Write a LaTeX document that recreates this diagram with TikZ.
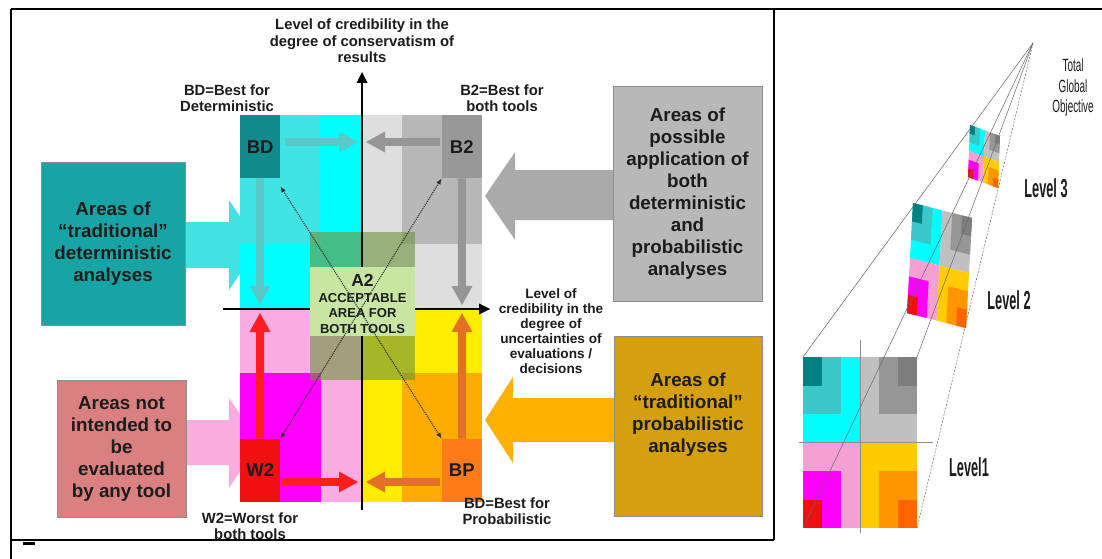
\documentclass[tikz,border=0pt]{standalone}
\usepackage{fontspec}
\usepackage{graphicx}
\setmainfont{Liberation Sans}
\usetikzlibrary{arrows.meta,calc}
\definecolor{cyanA}{RGB}{0,255,255}
\definecolor{cyanB}{RGB}{64,228,228}
\definecolor{tealD}{RGB}{16,138,138}
\definecolor{grayL}{RGB}{222,222,222}
\definecolor{grayM}{RGB}{184,184,184}
\definecolor{grayD}{RGB}{152,152,152}
\definecolor{pinkL}{RGB}{250,172,226}
\definecolor{magC}{RGB}{255,0,255}
\definecolor{redC}{RGB}{240,16,16}
\definecolor{yelC}{RGB}{255,236,0}
\definecolor{orC}{RGB}{255,172,0}
\definecolor{orD}{RGB}{255,122,24}
\definecolor{tealBox}{RGB}{24,164,164}
\definecolor{pinkBox}{RGB}{218,128,128}
\definecolor{grayBox}{RGB}{184,184,184}
\definecolor{goldBox}{RGB}{212,160,16}
\definecolor{arrCyan}{RGB}{64,226,226}
\definecolor{arrPink}{RGB}{250,172,222}
\definecolor{arrGray}{RGB}{170,170,170}
\definecolor{arrOr}{RGB}{255,176,0}
\definecolor{tealArr}{RGB}{88,200,200}
\definecolor{grayArr}{RGB}{150,150,150}
\definecolor{redArr}{RGB}{255,30,30}
\definecolor{orArr}{RGB}{228,112,40}
\definecolor{aOlive}{RGB}{110,150,62}
\definecolor{aLight}{RGB}{200,230,162}
\definecolor{lTeal}{RGB}{0,128,128}
\definecolor{lTealM}{RGB}{60,200,200}
\definecolor{lGrayL}{RGB}{192,192,192}
\definecolor{lGrayM}{RGB}{150,150,150}
\definecolor{lGrayD}{RGB}{126,126,126}
\definecolor{lPink}{RGB}{245,160,210}
\definecolor{lYel}{RGB}{255,204,0}
\definecolor{lOr}{RGB}{255,150,0}
\definecolor{lOrD}{RGB}{255,100,0}
\definecolor{txt}{RGB}{28,28,28}
\newcommand\qd[5]{\fill[#5] (#1,#2) -- (#3,#2) -- (#3,#4) -- (#1,#4) -- cycle;}
\newcommand\levelpat{%
 \qd{0}{0}{3}{3}{cyanA}\qd{0}{0}{2}{2}{lTealM}\qd{0}{0}{1}{1}{lTeal}%
 \qd{3}{0}{6}{3}{lGrayL}\qd{4}{0}{6}{2}{lGrayM}\qd{5}{0}{6}{1}{lGrayD}%
 \qd{0}{3}{3}{6}{lPink}\qd{0}{4}{2}{6}{magC}\qd{0}{5}{1}{6}{redC}%
 \qd{3}{3}{6}{6}{lYel}\qd{4}{4}{6}{6}{lOr}\qd{5}{5}{6}{6}{lOrD}}
\newcommand\narrowtxt[1]{\scalebox{0.56}[1]{#1}}
\newcommand\lvltxt[1]{\scalebox{0.49}[1]{\bfseries #1}}
\begin{document}
\begin{tikzpicture}[x=1pt,y=-1pt,
  lbl/.style={font=\bfseries\fontsize{14.8}{16.5}\selectfont, align=center, inner sep=0pt, text=txt},
  lbltwo/.style={font=\bfseries\fontsize{13.6}{15}\selectfont, align=center, inner sep=0pt, text=txt},
  bigtxt/.style={font=\bfseries\fontsize{18.8}{22}\selectfont, align=center, inner sep=0pt, text=txt},
  bigbox/.style={draw=black!45, line width=0.8pt, inner sep=0pt},
  keybox/.style={inner sep=0pt, font=\bfseries\fontsize{18.5}{18.5}\selectfont, text=txt,
    minimum width=40pt, minimum height=63pt, anchor=north west},
  tarr/.style={line width=8pt, -{Triangle[width=21pt,length=19pt,line width=0pt]}},
  axisarr/.style={line width=2.5pt, -{Triangle[width=11pt,length=11pt,line width=0pt]}},
  dotarr/.style={densely dotted, line width=1.1pt, black!80,
    {Latex[length=6pt,width=5pt]}-{Latex[length=6pt,width=5pt]}},
  lvl/.style={font=\fontsize{26}{26}\selectfont, inner sep=0pt, text=txt},
  apexline/.style={black!60, line width=0.5pt}
]
\useasboundingbox (0,0) rectangle (1102,559);
\fill[white] (0,0) rectangle (1102,559);

% ---- fat arrows (behind the quadrants)
\fill[arrCyan] (185,222) -- (229,222) -- (229,200) -- (259,245) -- (229,290) -- (229,268) -- (185,268) -- cycle;
\fill[arrPink] (186,420) -- (229,420) -- (229,398) -- (259,443) -- (229,488) -- (229,465) -- (186,465) -- cycle;
\fill[arrGray] (613,170) -- (515,170) -- (515,152) -- (485,196) -- (515,240) -- (515,220) -- (613,220) -- cycle;
\fill[arrOr] (614,398) -- (513,398) -- (513,377) -- (485,420) -- (513,463) -- (513,442) -- (614,442) -- cycle;

% ---- quadrants
\fill[cyanA] (240,115) rectangle (362,309);
\fill[cyanB] (240,115) rectangle (320,244);
\fill[grayL] (362,115) rectangle (482,309);
\fill[grayM] (402,115) rectangle (482,244);
\fill[pinkL] (240,309) rectangle (362,502);
\fill[magC] (240,373) rectangle (321,502);
\fill[yelC] (362,309) rectangle (482,502);
\fill[orC] (402,373) rectangle (482,502);

\node[keybox, fill=tealD] (BD) at (240,115) {BD};
\node[keybox, fill=grayD, anchor=north east] (B2) at (482,115) {B2};
\node[keybox, fill=redC, anchor=south west] (W2) at (240,502) {W2};
\node[keybox, fill=orD, anchor=south east] (BP) at (482,502) {BP};

% ---- A2 translucent area
\fill[aOlive, opacity=0.62] (310,232) rectangle (415,380);

% ---- axes
\coordinate (vbot) at (362,510);
\coordinate (vtop) at (362,72);
\coordinate (hleft) at (223,309);
\coordinate (hright) at (490,309);
\draw[axisarr] (vbot) -- (vtop);
\draw[axisarr] (hleft) -- (hright);

\node[fill=aLight, anchor=north west, minimum width=105pt, minimum height=69pt, inner sep=0pt] (A2) at (310,267) {};
\node[align=center, font=\bfseries\fontsize{13}{15.5}\selectfont, inner sep=0pt, text=txt] (A2t) at (362.5,304)
  {{\fontsize{17.5}{17.5}\selectfont A2}\\ACCEPTABLE\\AREA FOR\\BOTH TOOLS};

% ---- thick arrows
\coordinate (topmid) at (362,142);
\coordinate (botmid) at (362,482);
\coordinate (lmid) at (260,309);
\coordinate (rmid) at (462,309);
\draw[tarr, tealArr] ($(BD.east |- topmid)+(5,0)$) -- ($(topmid)+(-4,0)$);
\draw[tarr, grayArr] ($(B2.west |- topmid)+(-2,0)$) -- ($(topmid)+(4,0)$);
\draw[tarr, tealArr] (BD.south) -- ($(lmid)+(0,-4)$);
\draw[tarr, grayArr] (B2.south) -- ($(rmid)+(0,-4)$);
\draw[tarr, redArr] (W2.north) -- ($(lmid)+(0,4)$);
\draw[tarr, orArr] (BP.north) -- ($(rmid)+(0,4)$);
\draw[tarr, redArr] ($(W2.east |- botmid)+(2,0)$) -- ($(botmid)+(-4,0)$);
\draw[tarr, orArr] ($(BP.west |- botmid)+(-2,0)$) -- ($(botmid)+(4,0)$);

% ---- dotted arrows
\draw[dotarr] ($(BD.south east)+(0,8)$) -- (BP.north west);
\draw[dotarr] (B2.south west) -- (W2.north east);

% ---- big boxes
\node[bigbox, bigtxt, fill=tealBox, minimum width=144pt, minimum height=163pt] (tbox) at (113,243.5)
  {Areas of\\“traditional”\\deterministic\\analyses};
\node[bigbox, bigtxt, fill=pinkBox, minimum width=129pt, minimum height=137pt] (pbox) at (121.5,448.5)
  {Areas not\\intended to\\be\\evaluated\\by any tool};
\node[bigbox, bigtxt, fill=grayBox, minimum width=149pt, minimum height=215pt] (gbox) at (687.5,193.5)
  {Areas of\\possible\\application of\\both\\deterministic\\and\\probabilistic\\analyses};
\node[bigbox, fill=goldBox, minimum width=148pt, minimum height=180pt] (obox) at (688,426) {};
\node[bigtxt] (otxt) at (688,415) {Areas of\\“traditional”\\probabilistic\\analyses};

% ---- labels
\node[lbl] (ttl) at (362,41) {Level of credibility in the\\degree of conservatism of\\results};
\node[lbl] (lbd) at (227,98) {BD=Best for\\Deterministic};
\node[lbl] (lb2) at (502,98) {B2=Best for\\both tools};
\node[lbl] (lbp) at (507,511) {BD=Best for\\Probabilistic};
\node[lbl] (lw2) at (250,526) {W2=Worst for\\both tools};
\node[lbltwo] (lhx) at (551,331) {Level of\\credibility in the\\degree of\\uncertainties of\\evaluations /\\decisions};

% ---- right panel: levels
\begin{scope}[shift={(803,357)}, x={(19pt,0pt)}, y={(0pt,-28.5pt)}]
  \levelpat
\end{scope}
\begin{scope}[shift={(913,203)}, x={(9.833pt,-2.5pt)}, y={(-1pt,-18.333pt)}]
  \levelpat
\end{scope}
\begin{scope}[shift={(970,125)}, x={(5pt,-1.833pt)}, y={(-0.333pt,-8.667pt)}]
  \levelpat
\end{scope}
\draw[black!45, line width=0.6pt] (860,340) -- (860,533);
\draw[black!45, line width=0.6pt] (799,442) -- (933,442);

\coordinate (apex) at (1033,43);
\coordinate (L1tl) at (803,357);
\coordinate (L1tr) at (917,357);
\coordinate (L1bl) at (803,528);
\coordinate (L1br) at (917,528);
\draw[apexline] (apex) -- (L1tl);
\draw[apexline] (apex) -- (L1bl);
\draw[apexline] (apex) -- (L1tr);
\draw[apexline, dash pattern=on 2pt off 1.5pt] (apex) -- (L1br);

\node[lvl] (lv3) at (1046,188) {\lvltxt{Level 3}};
\node[lvl] (lv2) at (1009,300) {\lvltxt{Level 2}};
\node[lvl] (lv1) at (969,467) {\lvltxt{Level1}};
\node[inner sep=0pt, text=txt] (tgo) at (1073,88)
  {\narrowtxt{\fontsize{17.7}{20.5}\selectfont\begin{tabular}{@{}c@{}}Total\\Global\\Objective\end{tabular}}};

% ---- frame
\draw[line width=2pt] (11,9) -- (1102,9);
\draw[line width=2pt] (11,9) -- (11,559);
\draw[line width=1.5pt] (11,540) -- (774,540);
\draw[line width=2pt] (774,9) -- (774,540);
\draw[line width=3pt] (23,543) -- (35,543);
\end{tikzpicture}
\end{document}
